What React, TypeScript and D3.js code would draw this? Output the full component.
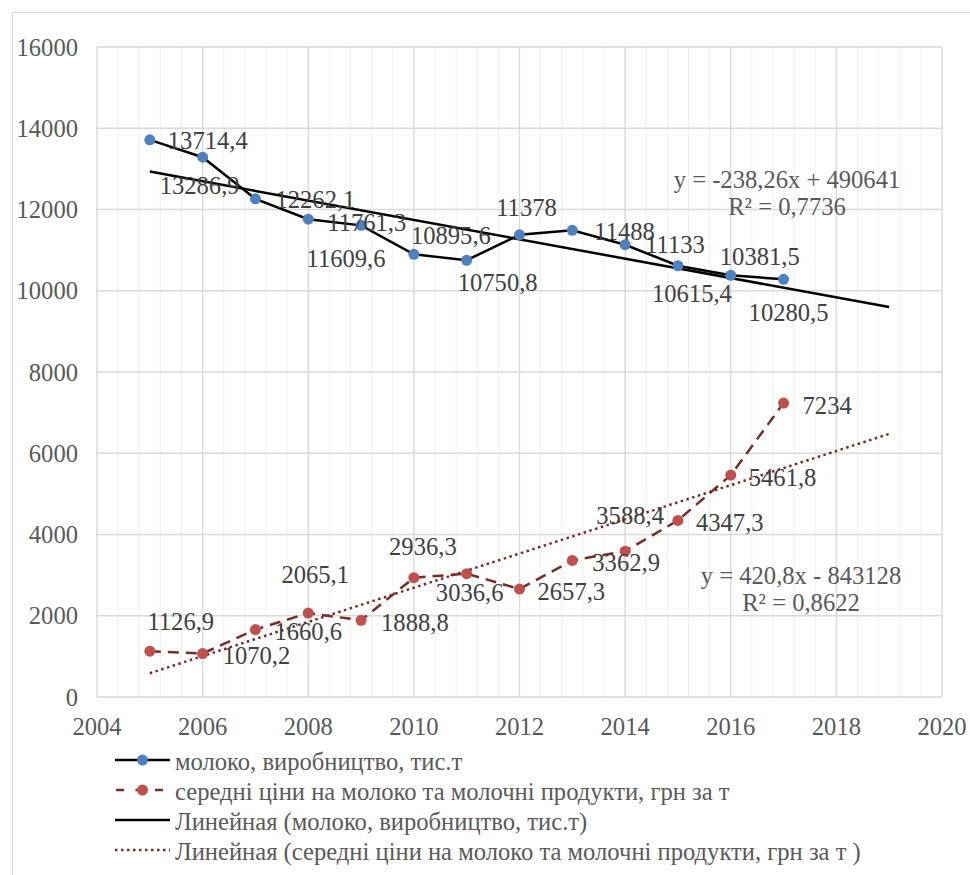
import * as d3 from "d3"

const years = [2005, 2006, 2007, 2008, 2009, 2010, 2011, 2012, 2013, 2014, 2015, 2016, 2017]
const milkValues = [13714.4, 13286.9, 12262.1, 11761.3, 11609.6, 10895.6, 10750.8, 11378, 11488, 11133, 10615.4, 10381.5, 10280.5]
const priceValues = [1126.9, 1070.2, 1660.6, 2065.1, 1888.8, 2936.3, 3036.6, 2657.3, 3362.9, 3588.4, 4347.3, 5461.8, 7234]
const xTicks = [2004, 2006, 2008, 2010, 2012, 2014, 2016, 2018, 2020]
const yTicks = [0, 2000, 4000, 6000, 8000, 10000, 12000, 14000, 16000]

const legendLabels = [
  "молоко, виробництво, тис.т",
  "середні ціни на молоко та молочні продукти, грн за т",
  "Линейная (молоко, виробництво, тис.т)",
  "Линейная (середні ціни на молоко та молочні продукти, грн за т )",
]
const milkEquation = ["y = -238,26x + 490641", "R² = 0,7736"]
const priceEquation = ["y = 420,8x - 843128", "R² = 0,8622"]

// label offsets from each point: [dx, dy, anchor]
const milkLabelPos: [number, number, string][] = [
  [18, 1, "start"], [-3, 28, "middle"], [20, 1, "start"], [19, 3, "start"],
  [-15, 33, "middle"], [37, -19, "middle"], [31, 22, "middle"], [7, -27, "middle"],
  [22, 1, "start"], [20, 0, "start"], [14, 28, "middle"], [29, -19, "middle"], [5, 33, "middle"],
]
const priceLabelPos: [number, number, string][] = [
  [31, -30, "middle"], [20, 2, "start"], [19, 2, "start"], [7, -39, "middle"],
  [20, 2, "start"], [9, -31, "middle"], [3, 19, "middle"], [18, 2, "start"],
  [20, 2, "start"], [5, -36, "middle"], [18, 2, "start"], [18, 2, "start"], [19, 2, "start"],
]

const fmt = (v: number) => String(v).replace(".", ",")

function linReg(xs: number[], ys: number[]) {
  const mx = d3.mean(xs)!
  const my = d3.mean(ys)!
  let num = 0
  let den = 0
  xs.forEach((x, i) => {
    num += (x - mx) * (ys[i] - my)
    den += (x - mx) * (x - mx)
  })
  const slope = num / den
  return (x: number) => my + slope * (x - mx)
}

const font = "Liberation Serif, Times New Roman, DejaVu Serif, serif"

export default function App() {
  const width = 970
  const height = 875
  const left = 97
  const right = 942
  const top = 47
  const bottom = 697

  const x = d3.scaleLinear().domain([2004, 2020]).range([left, right])
  const y = d3.scaleLinear().domain([0, 16000]).range([bottom, top])

  const minorX = d3.range(2004, 2020.01, 0.4)

  const line = d3.line<[number, number]>().x(d => x(d[0])).y(d => y(d[1]))
  const milkPts = years.map((yr, i) => [yr, milkValues[i]] as [number, number])
  const pricePts = years.map((yr, i) => [yr, priceValues[i]] as [number, number])

  const milkFit = linReg(years, milkValues)
  const priceFit = linReg(years, priceValues)
  const trendEnd = 2019
  const milkTrend: [number, number][] = [[years[0], milkFit(years[0])], [trendEnd, milkFit(trendEnd)]]
  const priceTrend: [number, number][] = [[years[0], priceFit(years[0])], [trendEnd, priceFit(trendEnd)]]

  const legendY = [760, 790, 820, 850]
  const txt = { fontFamily: font, fontSize: 24.6 }

  return (
    <svg width={width} height={height} style={{ position: "absolute", left: 0, top: 0, background: "#fff" }}>
      <rect x={0} y={0} width={width} height={height} fill="#fff" />
      {/* outer chart frame */}
      <path d={`M12.5,${height} V12.5 H${width}`} fill="none" stroke="#d9d9d9" strokeWidth={1.2} />

      {/* minor vertical gridlines */}
      {minorX.map(v => (
        <line key={"mx" + v} x1={x(v)} x2={x(v)} y1={top} y2={bottom} stroke="#efefef" strokeWidth={1} />
      ))}
      {xTicks.map(v => (
        <line key={"gx" + v} x1={x(v)} x2={x(v)} y1={top} y2={bottom} stroke="#d9d9d9" strokeWidth={1.3} />
      ))}
      {yTicks.map(v => (
        <line key={"gy" + v} x1={left} x2={right} y1={y(v)} y2={y(v)} stroke="#d9d9d9" strokeWidth={1.3} />
      ))}

      {/* tick labels */}
      {yTicks.map(v => (
        <text key={"ty" + v} x={78} y={y(v)} dy="0.35em" textAnchor="end" style={txt} fill="#595959">{v}</text>
      ))}
      {xTicks.map(v => (
        <text key={"tx" + v} x={x(v)} y={726} dy="0.35em" textAnchor="middle" style={txt} fill="#595959">{v}</text>
      ))}

      {/* trend lines */}
      <path d={line(milkTrend)!} fill="none" stroke="#000" strokeWidth={2.5} />
      <path d={line(priceTrend)!} fill="none" stroke="#772c2a" strokeWidth={2.5} strokeDasharray="2.5,3.5" />

      {/* series */}
      <path d={line(milkPts)!} fill="none" stroke="#000" strokeWidth={2.5} />
      <path d={line(pricePts)!} fill="none" stroke="#772c2a" strokeWidth={2.5} strokeDasharray="11,7" />
      {milkPts.map(([yr, v]) => (
        <circle key={"mp" + yr} cx={x(yr)} cy={y(v)} r={5.5} fill="#4f81bd" />
      ))}
      {pricePts.map(([yr, v]) => (
        <circle key={"pp" + yr} cx={x(yr)} cy={y(v)} r={5.5} fill="#c0504d" />
      ))}

      {/* data labels */}
      {milkPts.map(([yr, v], i) => (
        <text key={"ml" + yr} x={x(yr) + milkLabelPos[i][0]} y={y(v) + milkLabelPos[i][1]} dy="0.35em"
          textAnchor={milkLabelPos[i][2]} style={txt} fill="#404040">{fmt(v)}</text>
      ))}
      {pricePts.map(([yr, v], i) => (
        <text key={"pl" + yr} x={x(yr) + priceLabelPos[i][0]} y={y(v) + priceLabelPos[i][1]} dy="0.35em"
          textAnchor={priceLabelPos[i][2]} style={txt} fill="#404040">{fmt(v)}</text>
      ))}

      {/* equations */}
      {milkEquation.map((t, i) => (
        <text key={"me" + i} x={787} y={179 + i * 27} dy="0.35em" textAnchor="middle" style={txt} fill="#595959">{t}</text>
      ))}
      {priceEquation.map((t, i) => (
        <text key={"pe" + i} x={801} y={575 + i * 27} dy="0.35em" textAnchor="middle" style={txt} fill="#595959">{t}</text>
      ))}

      {/* legend */}
      <g>
        <line x1={115} x2={170} y1={legendY[0]} y2={legendY[0]} stroke="#000" strokeWidth={2.5} />
        <circle cx={142.5} cy={legendY[0]} r={5.5} fill="#4f81bd" />
        <line x1={115} x2={170} y1={legendY[1]} y2={legendY[1]} stroke="#772c2a" strokeWidth={2.5} strokeDasharray="8,11.5" strokeDashoffset={-1} />
        <circle cx={142.5} cy={legendY[1]} r={5.5} fill="#c0504d" />
        <line x1={115} x2={170} y1={legendY[2]} y2={legendY[2]} stroke="#000" strokeWidth={2.5} />
        <line x1={115} x2={170} y1={legendY[3]} y2={legendY[3]} stroke="#772c2a" strokeWidth={2.5} strokeDasharray="2.5,3.5" />
        {legendLabels.map((t, i) => (
          <text key={"lg" + i} x={175} y={legendY[i] + 1} dy="0.35em" style={txt} fill="#595959">{t}</text>
        ))}
      </g>
    </svg>
  )
}
